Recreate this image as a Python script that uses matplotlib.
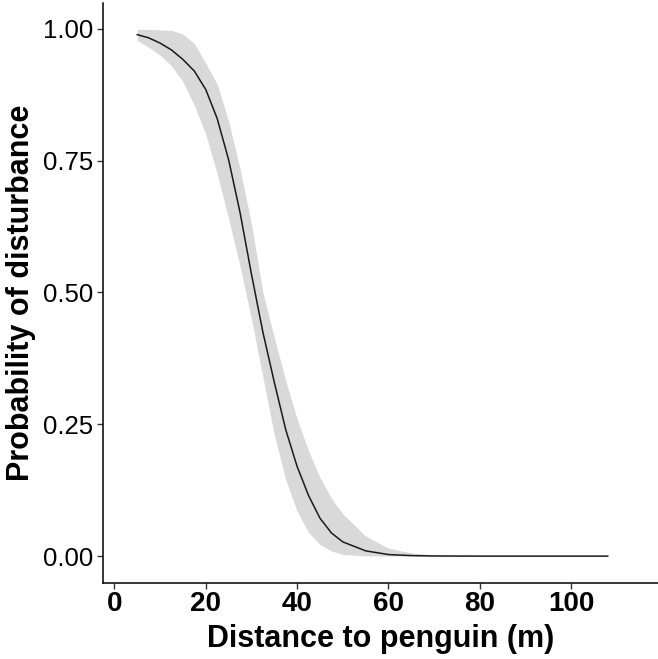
import matplotlib
matplotlib.use("Agg")
import matplotlib.pyplot as plt

# distance to penguin (m)
distance = [5, 7.5, 10, 12.5, 15, 17.5, 20, 22.5, 25, 27.5, 30, 32.5, 35, 37.5,
            40, 42.5, 45, 47.5, 50, 55, 60, 65, 70, 80, 90, 100, 108]
# fitted probability of disturbance
prob_fit = [0.989, 0.983, 0.973, 0.960, 0.942, 0.920, 0.885, 0.830, 0.752, 0.652,
            0.535, 0.425, 0.330, 0.240, 0.170, 0.115, 0.072, 0.044, 0.027, 0.010,
            0.003, 0.001, 0.0003, 0.0, 0.0, 0.0, 0.0]
# confidence band
prob_upper = [0.999, 0.999, 0.998, 0.997, 0.990, 0.972, 0.935, 0.895, 0.825, 0.735,
              0.630, 0.500, 0.415, 0.333, 0.260, 0.200, 0.149, 0.110, 0.080, 0.038,
              0.015, 0.006, 0.002, 0.0003, 0.0, 0.0, 0.0]
prob_lower = [0.978, 0.965, 0.950, 0.930, 0.900, 0.855, 0.800, 0.725, 0.640, 0.550,
              0.450, 0.340, 0.230, 0.145, 0.085, 0.045, 0.022, 0.010, 0.003, 0.0005,
              0.0, 0.0, 0.0, 0.0, 0.0, 0.0, 0.0]

x_ticks = [0, 20, 40, 60, 80, 100]
y_ticks = [0.0, 0.25, 0.5, 0.75, 1.0]

plt.rcParams["font.family"] = ["Liberation Sans", "DejaVu Sans"]

fig = plt.figure(figsize=(6.58, 6.59), dpi=100)
ax = fig.add_axes([0.1565, 0.1153, 0.8435, 0.8801])

ax.fill_between(distance, prob_lower, prob_upper, color="#d9d9d9", linewidth=0)
ax.plot(distance, prob_fit, color="#1a1a1a", linewidth=1.1)

ax.set_xlim(-2.5, 119)
ax.set_ylim(-0.051, 1.049)
ax.set_xticks(x_ticks)
ax.set_yticks(y_ticks)
ax.set_yticklabels([f"{v:.2f}" for v in y_ticks])

for side in ("top", "right"):
    ax.spines[side].set_visible(False)
for side in ("left", "bottom"):
    ax.spines[side].set_linewidth(1.1)
    ax.spines[side].set_color("black")

ax.tick_params(axis="both", direction="out", length=4, width=1.0, color="#333333")
ax.tick_params(axis="y", labelsize=18.5, pad=3)
ax.tick_params(axis="x", labelsize=20, pad=2)
for lab in ax.get_xticklabels():
    lab.set_fontweight("bold")

ax.set_xlabel("Distance to penguin (m)", fontsize=22, fontweight="bold", labelpad=5)
ax.set_ylabel("Probability of disturbance", fontsize=22, fontweight="bold", labelpad=5)

fig.savefig("out.png", dpi=100)
plt.close(fig)
